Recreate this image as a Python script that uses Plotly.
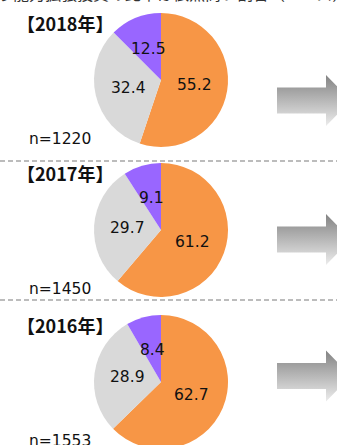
import math
import plotly.graph_objects as go

# --- data -------------------------------------------------------------
years = ["2018年", "2017年", "2016年"]
sample_sizes = [1220, 1450, 1553]
segments = ["能力増強", "維持・補修", "その他"]
share_2018 = [55.2, 32.4, 12.5]
share_2017 = [61.2, 29.7, 9.1]
share_2016 = [62.7, 28.9, 8.4]
shares = [share_2018, share_2017, share_2016]
segment_colors = ["#F79646", "#D9D9D9", "#9966FF"]
heading = "う能力拡張投資の比率は依然高い割合（ベース）"

# --- layout geometry (pixels, measured from top-left) ------------------
W, H = 337, 452
pie_cx, pie_r = 161, 67
pie_cy = [80, 230, 382]
arrow_cy = [100.5, 239.5, 376]
separators_y = [161, 300]


def px(x):
    return x / W


def py(y):
    return 1 - y / H


fig = go.Figure()
annotations = []

for i, (year, n, vals) in enumerate(zip(years, sample_sizes, shares)):
    cy = pie_cy[i]
    fig.add_trace(go.Pie(
        labels=segments,
        values=vals,
        sort=False,
        direction="clockwise",
        rotation=0,
        marker=dict(colors=segment_colors, line=dict(width=0)),
        textinfo="none",
        hoverinfo="label+value",
        showlegend=False,
        domain=dict(x=[px(pie_cx - pie_r), px(pie_cx + pie_r)],
                    y=[py(cy + pie_r), py(cy - pie_r)]),
    ))

    # value labels at half radius along each slice's bisector
    total = sum(vals)
    cum = 0.0
    for v in vals:
        mid = (cum + v / 2) / total
        cum += v
        theta = 2 * math.pi * mid
        lx = pie_cx + 0.5 * pie_r * math.sin(theta)
        ly = cy - 0.5 * pie_r * math.cos(theta)
        annotations.append(dict(
            x=px(lx), y=py(ly), xref="paper", yref="paper",
            text=f"{v:.1f}", showarrow=False,
            xanchor="center", yanchor="middle",
            font=dict(family="DejaVu Sans", size=15.5, color="#111111"),
        ))

    # year heading and sample size
    annotations.append(dict(
        x=px(15), y=py(cy - 57), xref="paper", yref="paper",
        text=f"<b>【{year}】</b>", showarrow=False,
        xanchor="left", yanchor="middle",
        font=dict(family="Noto Sans CJK JP", size=18, color="#111111"),
    ))
    annotations.append(dict(
        x=px(27), y=py(cy + 59), xref="paper", yref="paper",
        text=f"n={n}", showarrow=False,
        xanchor="left", yanchor="middle",
        font=dict(family="DejaVu Sans", size=15.5, color="#111111"),
    ))

# gradient arrows pointing right
for cy in arrow_cy:
    xs = [277, 326, 326, 351, 326, 326, 277, 277]
    ys = [cy - 13, cy - 13, cy - 25.5, cy, cy + 25.5, cy + 13, cy + 13, cy - 13]
    fig.add_trace(go.Scatter(
        x=xs, y=[H - y for y in ys], mode="lines",
        line=dict(width=0), fill="toself",
        fillgradient=dict(type="vertical",
                          colorscale=[[0, "#ececec"], [1, "#838383"]]),
        hoverinfo="skip", showlegend=False,
    ))

# heading line at the top edge
annotations.append(dict(
    x=px(-5), y=py(6.5), xref="paper", yref="paper",
    text=heading, showarrow=False,
    xanchor="left", yanchor="bottom",
    font=dict(family="Noto Sans CJK JP", size=16, color="#333333"),
))

shapes = [
    dict(type="line", xref="paper", yref="paper",
         x0=0, x1=1, y0=py(y), y1=py(y),
         line=dict(color="#A6A6A6", width=1.5, dash="5px,3px"))
    for y in separators_y
]

fig.update_layout(
    width=W, height=H,
    margin=dict(l=0, r=0, t=0, b=0),
    paper_bgcolor="white", plot_bgcolor="rgba(0,0,0,0)",
    xaxis=dict(range=[0, W], visible=False, fixedrange=True, domain=[0, 1]),
    yaxis=dict(range=[0, H], visible=False, fixedrange=True, domain=[0, 1]),
    annotations=annotations,
    shapes=shapes,
)

fig.write_html(
    "out.html",
    config=dict(displayModeBar=False),
    post_script=(
        "document.documentElement.style.overflow='hidden';"
        "document.body.style.overflow='hidden';"
        "document.body.style.margin='0';"
    ),
)
